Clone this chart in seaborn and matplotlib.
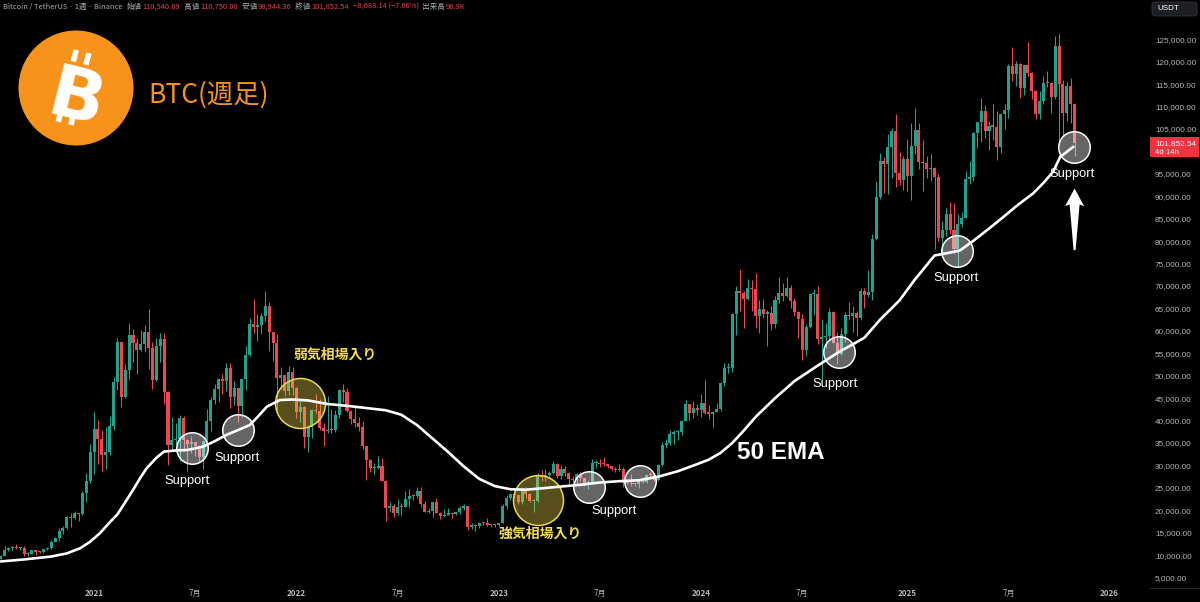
import numpy as np
import pandas as pd
import matplotlib
matplotlib.use("Agg")
import matplotlib.pyplot as plt
import matplotlib.transforms as mtransforms
from matplotlib.patches import Circle, Rectangle, Polygon, FancyBboxPatch
from matplotlib.lines import Line2D
from matplotlib.offsetbox import TextArea, HPacker, AnchoredOffsetbox
import seaborn as sns

# ---------------------------------------------------------------- data
# BTC/USDT weekly candles (Binance), first bar = week of 2020-07-13
first_week = "2020-07-13"

opens = [
    9300, 9170, 9930, 11070, 11580, 11850, 11660, 11710, 10260, 10330,
    11080, 10740, 10670, 11370, 11500, 13030, 13800, 15480, 15960, 18420,
    18190, 19370, 19170, 23860, 26450, 33000, 38150, 35800, 32260, 33100,
    38800, 48580, 57490, 45240, 51200, 59000, 57350, 55780, 57060, 59770,
    56200, 49060, 56600, 58240, 46430, 34650, 35680, 35800, 40500, 35600,
    34700, 35280, 34240, 31780, 35400, 39850, 44600, 47050, 49300, 48800,
    51760, 45170, 47250, 43200, 49200, 54700, 61500, 60850, 61300, 63270,
    65500, 59700, 57270, 49400, 50100, 46700, 50800, 47300, 41860, 43100,
    36280, 38470, 42400, 42200, 38350, 37700, 38000, 37800, 41260, 46820,
    46400, 42160, 40380, 39450, 38470, 34300, 31300, 29450, 29470, 29900,
    26600, 20550, 21000, 19300, 20850, 20800, 22580, 23300, 23180, 24300,
    21500, 19550, 19800, 21830, 19420, 18800, 19050, 19420, 19260, 19570,
    20630, 20900, 16330, 16700, 16450, 17100, 17090, 16780, 16840, 16680,
    17130, 20880, 22700, 23730, 23320, 21780, 24650, 23550, 22000, 22150,
    27950, 27490, 27930, 28300, 30300, 27590, 29230, 28430, 26900, 26750,
    28070, 27100, 25900, 26340, 30470, 30580, 30290, 30240, 29900, 29280,
    29050, 29300, 26100, 26000, 25850, 25830, 26520, 26250, 27970, 27920,
    26850, 30000, 34500, 35000, 37060, 37350, 37450, 39950, 43800, 41600,
    42700, 42280, 43950, 41750, 41580, 42030, 42650, 48300, 51660, 51730,
    63720, 68950, 68400, 67200, 69650, 69350, 63400, 64900, 63850, 64000,
    61500, 66900, 68500, 67750, 69650, 66650, 64250, 62700, 55850, 60800,
    68150, 68250, 58150, 58700, 58950, 64200, 57300, 54850, 59200, 63580,
    63330, 63900, 62850, 68950, 68000, 68750, 80400, 89850, 97900, 97300,
    101100, 104450, 95200, 93700, 98300, 94500, 101300, 104700, 97700, 97500,
    96100, 96250, 94250, 80700, 82600, 86100, 82400, 78350, 83750, 85150,
    93750, 94300, 104100, 106500, 109000, 104600, 105700, 105550, 100950, 108350,
    109200, 119100, 117250, 119450, 114200, 119300, 117400, 113500, 108250, 111150,
    115300, 115250, 112150, 123500, 115100, 108650, 114500, 110540.69,
]
highs = [
    9345, 10000, 12120, 11900, 12090, 12480, 11800, 12090, 10700, 11180,
    11080, 10950, 11490, 11720, 13350, 14090, 15970, 16480, 18800, 19480,
    19900, 19420, 24300, 28400, 34800, 41950, 40100, 37850, 38500, 40950,
    49700, 58350, 57530, 52640, 61850, 60500, 58400, 60200, 61300, 64850,
    57500, 58500, 59600, 59500, 46700, 40900, 39480, 41300, 41100, 36000,
    36600, 35300, 34600, 35400, 42600, 45300, 48100, 49400, 50500, 52900,
    52900, 48850, 47400, 49250, 56600, 62900, 67000, 63700, 64000, 69000,
    66400, 59800, 59200, 51950, 50200, 52100, 52000, 47600, 44500, 43200,
    38950, 42650, 45850, 44750, 39500, 45400, 42600, 42300, 46950, 48200,
    47200, 42400, 42980, 40800, 40000, 34300, 31400, 30650, 32200, 31750,
    26800, 21850, 21500, 22500, 21600, 24250, 24670, 23650, 25200, 25200,
    22000, 20550, 21850, 22800, 19700, 20400, 20480, 19500, 19700, 21000,
    21500, 21050, 17200, 16850, 17400, 17400, 18400, 17060, 16950, 17200,
    21300, 23400, 23950, 24250, 23450, 25250, 25250, 23900, 22600, 28400,
    28900, 29200, 28800, 31000, 30500, 30050, 29800, 28600, 27650, 28250,
    28450, 27200, 26800, 31400, 31300, 31500, 31800, 30350, 29950, 29750,
    30250, 29650, 26800, 28150, 26100, 26900, 27480, 28050, 28600, 27950,
    30400, 35200, 35900, 37980, 37950, 38000, 40200, 44700, 43800, 44400,
    43800, 45900, 48970, 43550, 42200, 43850, 48600, 52800, 52950, 64000,
    70000, 73800, 68900, 71600, 71300, 72800, 66900, 67200, 64750, 65500,
    67700, 71950, 70600, 71950, 70200, 67250, 64500, 63800, 61600, 68350,
    69400, 70050, 62700, 61800, 65000, 64500, 59800, 60700, 64100, 66500,
    65550, 64500, 69500, 69500, 73600, 81500, 93450, 99600, 98800, 104000,
    105250, 108350, 99950, 98950, 102700, 106400, 109600, 106450, 102500, 99000,
    99500, 96500, 95000, 84550, 87450, 88750, 88500, 86100, 86500, 95750,
    97900, 104350, 106650, 111950, 110450, 106800, 110550, 108950, 108500, 110550,
    119500, 123200, 120250, 119800, 119300, 124450, 117600, 113650, 113400, 116800,
    117950, 115400, 125700, 126200, 116000, 115450, 116400, 110750.00,
]
lows = [
    9020, 9150, 9900, 10960, 11150, 11380, 11130, 9880, 9880, 10200,
    10140, 10380, 10530, 11220, 11420, 12900, 13200, 14800, 15800, 16200,
    18000, 17650, 19000, 21800, 26100, 28130, 30420, 28800, 29240, 32300,
    37990, 46900, 43000, 44950, 49300, 53000, 50300, 55500, 55400, 51500,
    47000, 48800, 53050, 43800, 30000, 33400, 34800, 31000, 33300, 28800,
    32700, 32100, 31000, 29300, 35200, 37600, 43800, 44200, 45900, 46500,
    42800, 43400, 39600, 40750, 46900, 54400, 59500, 57800, 59400, 62300,
    55600, 53250, 42000, 47100, 45500, 45600, 45700, 40500, 39600, 34000,
    32900, 36200, 41600, 38000, 34300, 37200, 37150, 37550, 40500, 44200,
    41900, 39200, 38500, 37600, 33700, 26700, 28600, 28000, 29300, 26550,
    17600, 19600, 18600, 19000, 18900, 20750, 20700, 22400, 22650, 20800,
    19550, 19500, 18500, 19300, 18150, 18450, 19000, 18200, 18900, 19250,
    20050, 15600, 15800, 15500, 16000, 16700, 16550, 16250, 16330, 16600,
    17100, 20400, 22300, 22500, 21450, 21350, 22750, 21950, 19550, 21900,
    26600, 26500, 27200, 28170, 27150, 26950, 27650, 25800, 26350, 25900,
    26500, 25350, 24800, 26250, 29500, 29700, 29950, 29500, 29050, 28600,
    28750, 25150, 25800, 25350, 25350, 24900, 26000, 26000, 27150, 26550,
    26550, 29950, 34000, 34530, 34800, 35600, 36800, 39950, 40200, 40550,
    41300, 40750, 41500, 40300, 38550, 41850, 42250, 47700, 50550, 50900,
    59000, 64500, 60750, 66800, 64500, 60700, 59600, 62800, 56550, 60200,
    60750, 66300, 66650, 67600, 65100, 63400, 58400, 53500, 54300, 60650,
    63450, 57150, 49000, 56100, 57900, 57200, 52550, 54600, 57500, 62700,
    59800, 58900, 62400, 65050, 67450, 66800, 80200, 89400, 90800, 90500,
    94150, 92150, 92500, 91500, 91200, 89250, 99500, 96150, 91250, 94100,
    93400, 78250, 80000, 76600, 81150, 81550, 77150, 74500, 83100, 85100,
    92800, 93400, 100700, 102000, 103100, 100400, 102600, 98200, 99600, 105100,
    107450, 115700, 114700, 112000, 112650, 116800, 111700, 107300, 107250, 110600,
    114400, 108650, 111600, 102000, 103550, 106700, 106300, 98944.36,
]
closes = [
    9170, 9930, 11070, 11580, 11850, 11660, 11710, 10260, 10330, 11080,
    10740, 10670, 11370, 11500, 13030, 13800, 15480, 15960, 18420, 18190,
    19370, 19170, 23860, 26450, 33000, 38150, 35800, 32260, 33100, 38800,
    48580, 57490, 45240, 51200, 59000, 57350, 55780, 57060, 59770, 56200,
    49060, 56600, 58240, 46430, 34650, 35680, 35800, 40500, 35600, 34700,
    35280, 34240, 31780, 35400, 39850, 44600, 47050, 49300, 48800, 51760,
    45170, 47250, 43200, 49200, 54700, 61500, 60850, 61300, 63270, 65500,
    59700, 57270, 49400, 50100, 46700, 50800, 47300, 41860, 43100, 36280,
    38470, 42400, 42200, 38350, 37700, 38000, 37800, 41260, 46820, 46400,
    42160, 40380, 39450, 38470, 34300, 31300, 29450, 29470, 29900, 26600,
    20550, 21000, 19300, 20850, 20800, 22580, 23300, 23180, 24300, 21500,
    19550, 19800, 21830, 19420, 18800, 19050, 19420, 19260, 19570, 20630,
    20900, 16330, 16700, 16450, 17100, 17090, 16780, 16840, 16680, 17130,
    20880, 22700, 23730, 23320, 21780, 24650, 23550, 22000, 22150, 27950,
    27490, 27930, 28300, 30300, 27590, 29230, 28430, 26900, 26750, 28070,
    27100, 25900, 26340, 30470, 30580, 30290, 30240, 29900, 29280, 29050,
    29300, 26100, 26000, 25850, 25830, 26520, 26250, 27970, 27920, 26850,
    30000, 34500, 35000, 37060, 37350, 37450, 39950, 43800, 41600, 42700,
    42280, 43950, 41750, 41580, 42030, 42650, 48300, 51660, 51730, 63720,
    68950, 68400, 67200, 69650, 69350, 63400, 64900, 63850, 64000, 61500,
    66900, 68500, 67750, 69650, 66650, 64250, 62700, 55850, 60800, 68150,
    68250, 58150, 58700, 58950, 64200, 57300, 54850, 59200, 63580, 63330,
    63900, 62850, 68950, 68000, 68750, 80400, 89850, 97900, 97300, 101100,
    104450, 95200, 93700, 98300, 94500, 101300, 104700, 97700, 97500, 96100,
    96250, 94250, 80700, 82600, 86100, 82400, 78350, 83750, 85150, 93750,
    94300, 104100, 106500, 109000, 104600, 105700, 105550, 100950, 108350, 109200,
    119100, 117250, 119450, 114200, 119300, 117400, 113500, 108250, 111150, 115300,
    115250, 112150, 123500, 115100, 108650, 114500, 110540.68, 101852.54,
]
volume_text = "96.9K"
remaining_text = "4d 14h"

# 50-week EMA, read at selected bars (bar index, price)
ema_week = [
    1, 7, 14, 18, 21.4, 24, 26.5, 29, 31, 33, 35, 37, 38.5, 41, 43, 46, 49,
    53, 56, 59, 62, 65, 67, 69.4, 72.8, 76, 80, 85, 90, 95, 100, 104, 108,
    112, 116, 120, 124, 128, 132, 136, 140, 145, 150, 155, 160, 165, 170,
    175, 180, 183, 186, 189, 192, 195, 200, 205, 210, 216.4, 220, 223, 227,
    232, 236, 241, 244, 247.5, 251, 255, 258.7, 262, 266.4, 269, 271.5,
    273.3, 276.7,
]
ema_value = [
    8600, 9050, 9700, 10400, 11540, 13000, 14900, 17300, 19100, 21800, 24530,
    27400, 29370, 31700, 33100, 33350, 33450, 34200, 35400, 36800, 37900,
    39000, 40800, 43100, 44600, 44700, 44500, 43700, 43300, 42800, 42300,
    41300, 39000, 36000, 33000, 29800, 27000, 25400, 24700, 24600, 24900,
    25300, 25700, 26200, 26500, 26700, 27500, 28700, 30300, 31300, 32800,
    35000, 37800, 40800, 45000, 48800, 51700, 55300, 57000, 58500, 62500,
    66800, 71500, 76800, 77300, 77900, 80100, 82800, 85400, 87800, 90700,
    93000, 95500, 98800, 101050,
]

# time axis labels (first bar of each period) and price scale
tick_dates = ["2021-01-04", "2021-07-05", "2022-01-03", "2022-07-04",
              "2023-01-02", "2023-07-03", "2024-01-01", "2024-07-01",
              "2025-01-06", "2025-07-07", "2026-01-05"]
tick_labels = ["2021", "7月", "2022", "7月", "2023", "7月", "2024", "7月",
               "2025", "7月", "2026"]
price_ticks = list(range(5000, 125001, 5000))

# ---------------------------------------------------------------- style
UP = "#1fa38c"
DOWN = "#ee4752"
AXIS_TXT = "#b4b6bc"
HEAD_GRAY = "#a9abb2"
HEAD_RED = "#e5414c"
YELLOW = "#f3dd4c"
ORANGE = "#f7931a"
JP = ["Noto Sans CJK JP", "DejaVu Sans"]
LAT = ["Liberation Sans", "DejaVu Sans"]

sns.set_theme(style="dark", rc={"axes.facecolor": "black",
                                "figure.facecolor": "black",
                                "axes.grid": False})
plt.rcParams["font.family"] = JP

W, H = 1200, 602
fig = plt.figure(figsize=(W / 100, H / 100), dpi=100)
plot_right, plot_bottom = 1143, 587
ax = fig.add_axes([0, (H - plot_bottom) / H, plot_right / W, plot_bottom / H])
ax.set_facecolor("black")
for s in ax.spines.values():
    s.set_visible(False)

df = pd.DataFrame({"open": opens, "high": highs, "low": lows, "close": closes})
df["week"] = pd.date_range(first_week, periods=len(df), freq="7D")
df["pos"] = np.arange(len(df))
df["up"] = df["close"] >= df["open"]
colors = np.where(df["up"], UP, DOWN)

# wicks and bodies
ax.vlines(df["pos"], df["low"], df["high"], colors=colors, linewidth=0.75, zorder=2)
body_low = np.minimum(df["open"], df["close"])
body_h = np.maximum((df["close"] - df["open"]).abs(), 250)
ax.bar(df["pos"], body_h, bottom=body_low, width=0.78, color=colors,
       linewidth=0, zorder=3)

# 50 EMA
sns.lineplot(x=ema_week, y=ema_value, ax=ax, color="white", linewidth=1.9,
             sort=False, zorder=6)

# scales
px_per_bar = 3.891
x0_px = -3.2
ax.set_xlim((0 - x0_px) / px_per_bar, (plot_right - x0_px) / px_per_bar)
usd_per_px = 5000 / 22.43
ax.set_ylim(125000 - (plot_bottom - 39.3) * usd_per_px, 125000 + 39.3 * usd_per_px)

start = pd.Timestamp(first_week)
tick_pos = [(pd.Timestamp(d) - start).days / 7 for d in tick_dates]
ax.set_xticks(tick_pos)
ax.set_xticklabels(tick_labels)
for lab in ax.get_xticklabels():
    lab.set_fontweight("bold" if lab.get_text().isdigit() else "normal")
ax.tick_params(axis="x", length=0, pad=1.2, labelsize=5.8, colors=AXIS_TXT)

# the last-price tag covers the scale label nearest to it
shown_ticks = [v for v in price_ticks if abs(v - closes[-1]) > 12 * usd_per_px]
ax.yaxis.tick_right()
ax.set_yticks(shown_ticks)
ax.set_yticklabels([f"{v:,.2f}" for v in shown_ticks], family=LAT)
ax.tick_params(axis="y", length=0, pad=8.6, labelsize=5.9, colors=AXIS_TXT)
ax.set_xlabel("")
ax.set_ylabel("")


def pixel_frame(x, y, base):
    """Transform taking pixel offsets (y up) around the point (x, y) of `base`."""
    return (mtransforms.Affine2D().scale(1 / fig.dpi) + fig.dpi_scale_trans
            + mtransforms.ScaledTranslation(x, y, base))


# support / regime circles
support_pts = [(50.1, 34000), (62.1, 38000), (152.1, 25300), (165.3, 26600),
               (216.4, 55300), (246.9, 77800), (276.9, 101000)]
ax.scatter([p[0] for p in support_pts], [p[1] for p in support_pts], s=(31.5 * 0.72) ** 2,
           facecolor=(1, 1, 1, 0.40), edgecolor="white", linewidth=1.1, zorder=5)
regime_pts = [(78.0, 44000), (139.0, 22300)]
ax.scatter([p[0] for p in regime_pts], [p[1] for p in regime_pts], s=(50 * 0.72) ** 2,
           facecolor=(0.95, 0.86, 0.30, 0.36), edgecolor="#e9d94e", linewidth=1.1, zorder=5)

support_txt = [(48.8, 26540), (61.7, 31600), (158.6, 19850), (215.4, 48200),
               (246.5, 71800), (276.3, 95000)]
for x, y in support_txt:
    ax.text(x, y, "Support", color="white", fontsize=9.3, family=LAT,
            ha="center", va="center", zorder=8)

ax.text(86.9, 54630, "弱気相場入り", color=YELLOW, fontsize=10, fontweight="bold",
        family=JP, ha="center", va="center", zorder=8)
ax.text(139.6, 14700, "強気相場入り", color=YELLOW, fontsize=10, fontweight="bold",
        family=JP, ha="center", va="center", zorder=8)
ax.text(201.5, 32800, "50 EMA", color="white", fontsize=17.5, fontweight="bold",
        family=LAT, ha="center", va="center", zorder=8)

# upward arrow under the last support
arrow_shape = [(-1, 0), (1, 0), (5, 45.7), (9.5, 44), (0, 61.7), (-9.5, 44), (-5, 45.7)]
ax.add_patch(Polygon(arrow_shape, closed=True, facecolor="white", edgecolor="none",
                     transform=pixel_frame(277, 78000, ax.transData), zorder=8,
                     clip_on=False))

# last price tag on the price scale
tag_base = mtransforms.blended_transform_factory(fig.transFigure, ax.transData)
tag_tr = pixel_frame(1150 / W, closes[-1], tag_base)
ax.add_patch(Rectangle((0, -14), 49, 20, facecolor="#f0343f", edgecolor="none",
                       transform=tag_tr, zorder=20, clip_on=False))
ax.text(5, -0.5, f"{closes[-1]:,.2f}", color="white", fontsize=5.9, family=LAT,
        ha="left", va="center", transform=tag_tr, zorder=21, clip_on=False)
ax.text(5, -9, remaining_text, color="white", fontsize=5.6, family=LAT,
        ha="left", va="center", transform=tag_tr, zorder=21, clip_on=False)

# currency box and price-scale baseline
fig.add_artist(FancyBboxPatch((1152 / W, (H - 16) / H), 45 / W, 14 / H,
                              boxstyle="round,pad=0,rounding_size=0.004",
                              transform=fig.transFigure, facecolor="#1d1f24",
                              edgecolor="#33363d", linewidth=0.6))
fig.text(1157 / W, (H - 9) / H, "USDT", color="white", fontsize=5.8, family=LAT,
         ha="left", va="center")
fig.add_artist(Line2D([1150 / W, 1], [(H - 588) / H] * 2, color="#2a2c31",
                      linewidth=0.8, transform=fig.transFigure))

# header line with the last bar's OHLC
chg = closes[-1] - closes[-2]
pct = chg / closes[-2] * 100
pieces = [
    ("Bitcoin / TetherUS · 1週 · Binance  ", HEAD_GRAY),
    ("始値", HEAD_GRAY), (f"{opens[-1]:,.2f}", HEAD_RED),
    ("  高値", HEAD_GRAY), (f"{highs[-1]:,.2f}", HEAD_RED),
    ("  安値", HEAD_GRAY), (f"{lows[-1]:,.2f}", HEAD_RED),
    ("  終値", HEAD_GRAY), (f"{closes[-1]:,.2f}", HEAD_RED),
    (f"  −{abs(chg):,.2f} (−{abs(pct):.2f}%)", HEAD_RED),
    ("  出来高", HEAD_GRAY), (volume_text, HEAD_RED),
]
areas = [TextArea(t, textprops=dict(color=c, fontsize=5.4, family=JP)) for t, c in pieces]
header = HPacker(children=areas, align="baseline", pad=0, sep=0.6)
fig.add_artist(AnchoredOffsetbox(loc="upper left", child=header, pad=0, borderpad=0,
                                 frameon=False, bbox_to_anchor=(3 / W, 1 - 3 / H),
                                 bbox_transform=fig.transFigure))

# Bitcoin logo and title
logo = fig.add_axes([0, 1 - 160 / H, 300 / W, 160 / H])
logo.set_xlim(0, 300)
logo.set_ylim(160, 0)
logo.axis("off")
logo.patch.set_alpha(0)
cx, cy = 76, 88
logo.add_patch(Circle((cx, cy), 57.5, facecolor=ORANGE, edgecolor="none"))
rot = mtransforms.Affine2D().rotate_deg_around(cx, cy, 14) + logo.transData
for bx in (-9, 4):
    for by0 in (-37, 25):
        logo.add_patch(Rectangle((cx + bx - 2.8, cy + by0), 5.6, 12, facecolor="white",
                                 edgecolor="none", transform=rot))
logo.text(cx, cy, "B", color="white", fontsize=52, fontweight="bold",
          family=["DejaVu Sans"], ha="center", va="center_baseline", rotation=-14)
logo.text(148, 95, "BTC(週足)", color=ORANGE, fontsize=19, family=JP,
          ha="left", va="center")

fig.savefig("out.png", dpi=100, facecolor="black")
